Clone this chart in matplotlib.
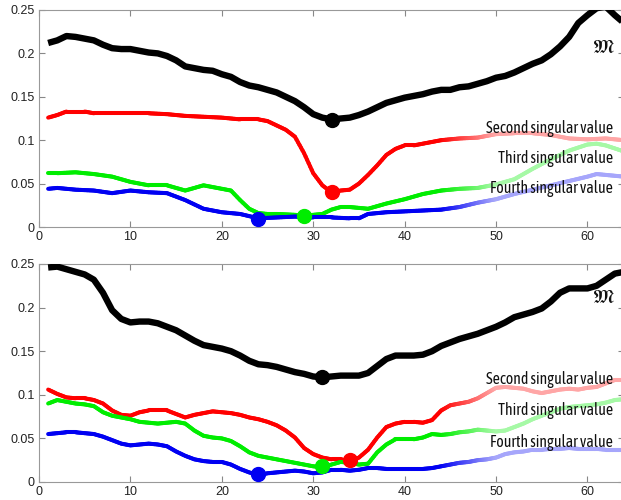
import numpy as np
import matplotlib
matplotlib.use("Agg")
import matplotlib.pyplot as plt
from matplotlib.collections import LineCollection

plt.rcParams['mathtext.fontset'] = 'stix'

# ---------------- data: top panel ----------------
x_top_black = list(range(1, 65))
y_top_black = [0.212, 0.215, 0.220, 0.219, 0.217, 0.215, 0.210, 0.206, 0.205, 0.205,
               0.203, 0.201, 0.200, 0.197, 0.192, 0.185, 0.183, 0.181, 0.180, 0.176,
               0.173, 0.167, 0.163, 0.161, 0.158, 0.155, 0.150, 0.145, 0.138, 0.130,
               0.126, 0.124, 0.125, 0.126, 0.129, 0.133, 0.138, 0.143, 0.146, 0.149,
               0.151, 0.153, 0.156, 0.158, 0.158, 0.161, 0.162, 0.165, 0.168, 0.172,
               0.174, 0.178, 0.183, 0.188, 0.192, 0.199, 0.208, 0.219, 0.235, 0.244,
               0.252, 0.254, 0.244, 0.235]

x_top_red = [1, 2, 3, 4, 5, 6, 8, 10, 12, 14, 16, 18, 20, 22, 24, 25, 26, 27, 28, 29,
             30, 31, 32, 33, 34, 35, 36, 37, 38, 39, 40, 41, 42, 43, 44, 46, 48, 50,
             52, 54, 56, 58, 60, 62, 64]
y_top_red = [0.126, 0.129, 0.133, 0.133, 0.133, 0.131, 0.131, 0.131, 0.131, 0.130,
             0.128, 0.127, 0.126, 0.124, 0.124, 0.122, 0.117, 0.112, 0.104, 0.085,
             0.062, 0.048, 0.040, 0.042, 0.043, 0.050, 0.060, 0.071, 0.083, 0.090,
             0.094, 0.094, 0.096, 0.098, 0.100, 0.102, 0.103, 0.107, 0.108, 0.108,
             0.106, 0.102, 0.101, 0.102, 0.100]

x_top_green = [1, 2, 4, 6, 8, 10, 12, 14, 16, 18, 20, 21, 22, 23, 24, 25, 26, 28, 29,
               30, 31, 32, 33, 34, 35, 36, 37, 38, 40, 42, 44, 46, 48, 50, 52, 54, 56,
               58, 60, 61, 62, 64]
y_top_green = [0.062, 0.062, 0.063, 0.061, 0.058, 0.052, 0.048, 0.048, 0.042, 0.048,
               0.044, 0.042, 0.031, 0.021, 0.016, 0.015, 0.015, 0.014, 0.013, 0.014,
               0.015, 0.020, 0.023, 0.023, 0.022, 0.021, 0.024, 0.027, 0.032, 0.038,
               0.042, 0.044, 0.045, 0.049, 0.055, 0.067, 0.078, 0.088, 0.095, 0.096,
               0.094, 0.087]

x_top_blue = [1, 2, 4, 6, 8, 10, 12, 14, 16, 18, 20, 22, 24, 26, 28, 30, 32, 34, 35,
              36, 38, 40, 42, 44, 46, 48, 50, 52, 54, 56, 58, 60, 61, 62, 64]
y_top_blue = [0.044, 0.045, 0.043, 0.042, 0.039, 0.042, 0.040, 0.039, 0.031, 0.021,
              0.017, 0.015, 0.010, 0.011, 0.012, 0.011, 0.011, 0.010, 0.010, 0.015,
              0.017, 0.018, 0.019, 0.020, 0.023, 0.028, 0.032, 0.038, 0.043, 0.048,
              0.053, 0.058, 0.061, 0.060, 0.058]

top_markers_x = [32, 32, 29, 24]
top_markers_y = [0.123, 0.040, 0.013, 0.009]

# ---------------- data: bottom panel ----------------
x_bot = list(range(1, 65))
y_bot_black = [0.246, 0.247, 0.244, 0.241, 0.238, 0.232, 0.217, 0.197, 0.187, 0.183,
               0.184, 0.184, 0.182, 0.178, 0.174, 0.168, 0.162, 0.157, 0.155, 0.153,
               0.150, 0.145, 0.139, 0.135, 0.134, 0.132, 0.129, 0.126, 0.124, 0.121,
               0.120, 0.121, 0.122, 0.122, 0.122, 0.125, 0.133, 0.141, 0.145, 0.145,
               0.145, 0.146, 0.150, 0.156, 0.160, 0.164, 0.167, 0.170, 0.174, 0.178,
               0.183, 0.189, 0.192, 0.195, 0.199, 0.207, 0.217, 0.222, 0.222, 0.222,
               0.225, 0.232, 0.239, 0.241]
y_bot_red = [0.106, 0.101, 0.097, 0.096, 0.096, 0.094, 0.090, 0.082, 0.077, 0.076,
             0.080, 0.082, 0.082, 0.082, 0.078, 0.074, 0.077, 0.079, 0.081, 0.080,
             0.079, 0.077, 0.074, 0.072, 0.069, 0.065, 0.059, 0.051, 0.039, 0.032,
             0.028, 0.026, 0.026, 0.024, 0.028, 0.037, 0.051, 0.063, 0.067, 0.069,
             0.069, 0.068, 0.071, 0.082, 0.088, 0.090, 0.092, 0.096, 0.102, 0.108,
             0.109, 0.108, 0.107, 0.104, 0.102, 0.104, 0.106, 0.107, 0.106, 0.108,
             0.109, 0.113, 0.117, 0.117]
y_bot_green = [0.090, 0.094, 0.092, 0.090, 0.089, 0.087, 0.080, 0.076, 0.074, 0.072,
               0.069, 0.068, 0.067, 0.068, 0.069, 0.067, 0.059, 0.053, 0.051, 0.050,
               0.047, 0.041, 0.034, 0.030, 0.028, 0.026, 0.024, 0.022, 0.020, 0.018,
               0.017, 0.020, 0.023, 0.022, 0.020, 0.021, 0.034, 0.043, 0.049, 0.049,
               0.049, 0.051, 0.055, 0.054, 0.055, 0.057, 0.058, 0.060, 0.059, 0.058,
               0.059, 0.063, 0.067, 0.072, 0.076, 0.080, 0.084, 0.086, 0.087, 0.088,
               0.089, 0.091, 0.094, 0.095]
y_bot_blue = [0.055, 0.056, 0.057, 0.057, 0.056, 0.055, 0.052, 0.048, 0.044, 0.042,
              0.043, 0.044, 0.043, 0.041, 0.035, 0.030, 0.026, 0.024, 0.023, 0.023,
              0.020, 0.015, 0.011, 0.008, 0.010, 0.011, 0.012, 0.013, 0.012, 0.010,
              0.011, 0.014, 0.014, 0.013, 0.014, 0.016, 0.016, 0.015, 0.015, 0.015,
              0.015, 0.015, 0.016, 0.018, 0.020, 0.022, 0.023, 0.025, 0.026, 0.028,
              0.032, 0.034, 0.035, 0.037, 0.037, 0.038, 0.038, 0.039, 0.038, 0.038,
              0.038, 0.037, 0.037, 0.037]

bot_markers_x = [31, 34, 31, 24]
bot_markers_y = [0.120, 0.025, 0.018, 0.009]

labels = ["Second singular value", "Third singular value", "Fourth singular value"]
top_label_y = [0.113, 0.079, 0.044]
bot_label_y = [0.117, 0.082, 0.045]
m_label = r"$\mathfrak{M}$"

xticks = [0, 10, 20, 30, 40, 50, 60]
yticks = [0, 0.05, 0.1, 0.15, 0.2, 0.25]
yticklabels = ["0", "0.05", "0.1", "0.15", "0.2", "0.25"]

colors = {"black": (0, 0, 0), "red": (1, 0, 0), "green": (0, 0.93, 0), "blue": (0, 0, 0.95)}
series_colors = ["red", "green", "blue"]
label_font = ['Asap Condensed', 'Barlow Semi Condensed', 'DejaVu Sans']


def fade_line(ax, x, y, rgb, lw, fade_start=44.0, fade_end=50.0, light=0.65):
    x = np.asarray(x, float)
    y = np.asarray(y, float)
    segs, cols = [], []
    for i in range(len(x) - 1):
        n = max(1, int((x[i + 1] - x[i]) * 6))
        for k in range(n):
            t0, t1 = k / n, (k + 1) / n
            xa = x[i] + (x[i + 1] - x[i]) * t0
            xb = x[i] + (x[i + 1] - x[i]) * t1
            ya = y[i] + (y[i + 1] - y[i]) * t0
            yb = y[i] + (y[i + 1] - y[i]) * t1
            segs.append([(xa, ya), (xb, yb)])
            xm = 0.5 * (xa + xb)
            f = np.clip((xm - fade_start) / (fade_end - fade_start), 0, 1) * light
            cols.append(tuple(ch + (1 - ch) * f for ch in rgb))
    lc = LineCollection(segs, colors=cols, linewidths=lw, capstyle='round',
                        joinstyle='round', zorder=2)
    ax.add_collection(lc)


fig = plt.figure(figsize=(6.21, 5.0), dpi=100)
ax1 = fig.add_axes([39 / 621, 1 - 227 / 500, 585 / 621, 217 / 500])
ax2 = fig.add_axes([39 / 621, 1 - 482 / 500, 585 / 621, 218 / 500])

panels = [
    (ax1, x_top_black, y_top_black,
     [(x_top_red, y_top_red), (x_top_green, y_top_green), (x_top_blue, y_top_blue)],
     top_markers_x, top_markers_y, top_label_y, 0.207),
    (ax2, x_bot, y_bot_black,
     [(x_bot, y_bot_red), (x_bot, y_bot_green), (x_bot, y_bot_blue)],
     bot_markers_x, bot_markers_y, bot_label_y, 0.212),
]

for ax, xb, yb, cser, mx, my, ly, my_m in panels:
    ax.plot(xb, yb, color='black', lw=4.6, solid_capstyle='butt', zorder=3)
    for (xs, ys), cname in zip(cser, series_colors):
        fade_line(ax, xs, ys, colors[cname], 2.9)
    mcols = ["black", "red", "green", "blue"]
    for xx, yy, cn in zip(mx, my, mcols):
        ax.plot([xx], [yy], 'o', color=colors[cn], ms=10, zorder=4)
    for lab, yy in zip(labels, ly):
        ax.text(62.8, yy, lab, ha='right', va='center', fontsize=11.3,
                family=label_font, color='#111111', zorder=5)
    ax.text(61.7, my_m, m_label, ha='center', va='center', fontsize=14.5, color='#111111', zorder=5)
    ax.set_xlim(0, 64)
    ax.set_ylim(0, 0.25)
    ax.set_xticks(xticks)
    ax.set_yticks(yticks)
    ax.set_yticklabels(yticklabels)
    ax.tick_params(direction='in', top=True, right=True, length=4, color='#888888',
                   labelsize=9, labelcolor='#222222', pad=3)
    for lab in ax.get_xticklabels() + ax.get_yticklabels():
        lab.set_family('Liberation Sans')
    for sp in ax.spines.values():
        sp.set_color('#999999')
        sp.set_linewidth(0.8)

fig.savefig("out.png", dpi=100)
